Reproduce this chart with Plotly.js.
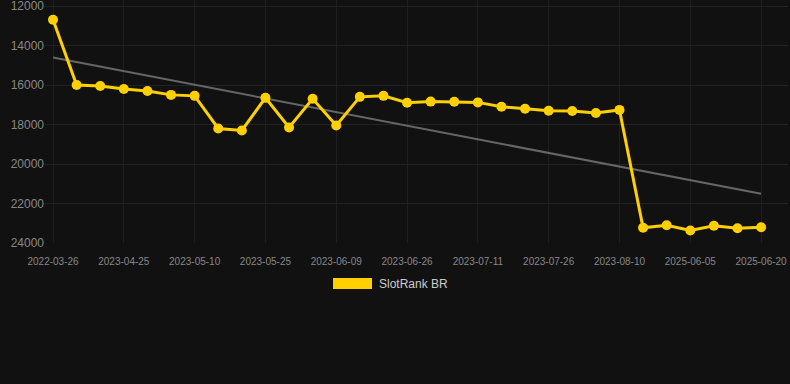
<!DOCTYPE html>
<html>
<head>
<meta charset="utf-8">
<script src="https://cdn.plot.ly/plotly-3.0.1.min.js"></script>
<style>
  html, body { margin: 0; padding: 0; background: #111111; }
  #chart { width: 790px; height: 384px; }
</style>
</head>
<body>
<div id="chart"></div>
<script>
// Categories (dates) – labelled every third point
const dates = [
  "2022-03-26", "2023-04-15", "2023-04-20",
  "2023-04-25", "2023-04-30", "2023-05-05",
  "2023-05-10", "2023-05-15", "2023-05-20",
  "2023-05-25", "2023-05-30", "2023-06-04",
  "2023-06-09", "2023-06-14", "2023-06-20",
  "2023-06-26", "2023-07-01", "2023-07-06",
  "2023-07-11", "2023-07-16", "2023-07-21",
  "2023-07-26", "2023-07-31", "2023-08-05",
  "2023-08-10", "2023-08-15", "2025-05-31",
  "2025-06-05", "2025-06-10", "2025-06-15",
  "2025-06-20"
];
const ranks = [
  12700, 16000, 16050,
  16200, 16300, 16500,
  16550, 18200, 18300,
  16650, 18150, 16700,
  18050, 16600, 16550,
  16900, 16840, 16850,
  16880, 17100, 17200,
  17300, 17320, 17420,
  17260, 23230, 23100,
  23370, 23130, 23250,
  23200
];
const seriesName = "SlotRank BR";
const yTicks = [12000, 14000, 16000, 18000, 20000, 22000, 24000];

// Linear trend (least squares over point index)
const n = ranks.length;
const idx = ranks.map((_, i) => i);
const mx = idx.reduce((a, b) => a + b, 0) / n;
const my = ranks.reduce((a, b) => a + b, 0) / n;
let sxy = 0, sxx = 0;
for (let i = 0; i < n; i++) { sxy += (idx[i] - mx) * (ranks[i] - my); sxx += (idx[i] - mx) ** 2; }
const slope = sxy / sxx;
const intercept = my - slope * mx;
const trendY = idx.map(i => intercept + slope * i);

const tickvals = dates.filter((_, i) => i % 3 === 0);

const gold = "#FFD000";

const traces = [
  {
    x: dates, y: trendY, type: "scatter", mode: "lines",
    line: { color: "#666666", width: 2 },
    hoverinfo: "skip", showlegend: false
  },
  {
    x: dates, y: ranks, type: "scatter", mode: "lines+markers",
    name: seriesName,
    line: { color: gold, width: 3 },
    marker: { color: gold, size: 10 },
    showlegend: false
  }
];

const H = 243; // plot height in px
const layout = {
  width: 790, height: 384,
  paper_bgcolor: "#111111", plot_bgcolor: "#111111",
  font: { family: "Liberation Sans, Arial, sans-serif", color: "#888888", size: 11 },
  margin: { l: 45, r: 2, t: 0, b: 141 },
  showlegend: false,
  xaxis: {
    type: "category",
    range: [-0.34, 31.14],
    tickvals: tickvals,
    ticktext: tickvals,
    tickangle: 0,
    showgrid: true, gridcolor: "#1f1f1f", gridwidth: 1,
    showline: false, zeroline: false,
    ticks: "outside", ticklen: 9, tickcolor: "rgba(0,0,0,0)",
    ticklabeloverflow: "allow",
    tickfont: { size: 10, color: "#888888" }
  },
  yaxis: {
    range: [24000, 11696],
    tickvals: yTicks,
    ticktext: yTicks.map(String),
    showgrid: true, gridcolor: "#222222", gridwidth: 1,
    zeroline: false, showline: false, ticks: "",
    ticklabeloverflow: "allow",
    tickfont: { size: 12, color: "#888888" }
  },
  shapes: [
    { type: "rect", xref: "paper", yref: "paper",
      x0: (333 - 45) / 743, x1: (372 - 45) / 743,
      y0: (H - 278) / H, y1: (H - 289) / H,
      fillcolor: gold, line: { width: 0 } }
  ],
  annotations: [
    { xref: "paper", yref: "paper", xanchor: "left", yanchor: "middle",
      x: (377 - 45) / 743, y: (H - 284) / H,
      text: seriesName, showarrow: false,
      font: { size: 12, color: "#cccccc" } }
  ]
};

Plotly.newPlot("chart", traces, layout, { displayModeBar: false, responsive: false });
</script>
</body>
</html>
